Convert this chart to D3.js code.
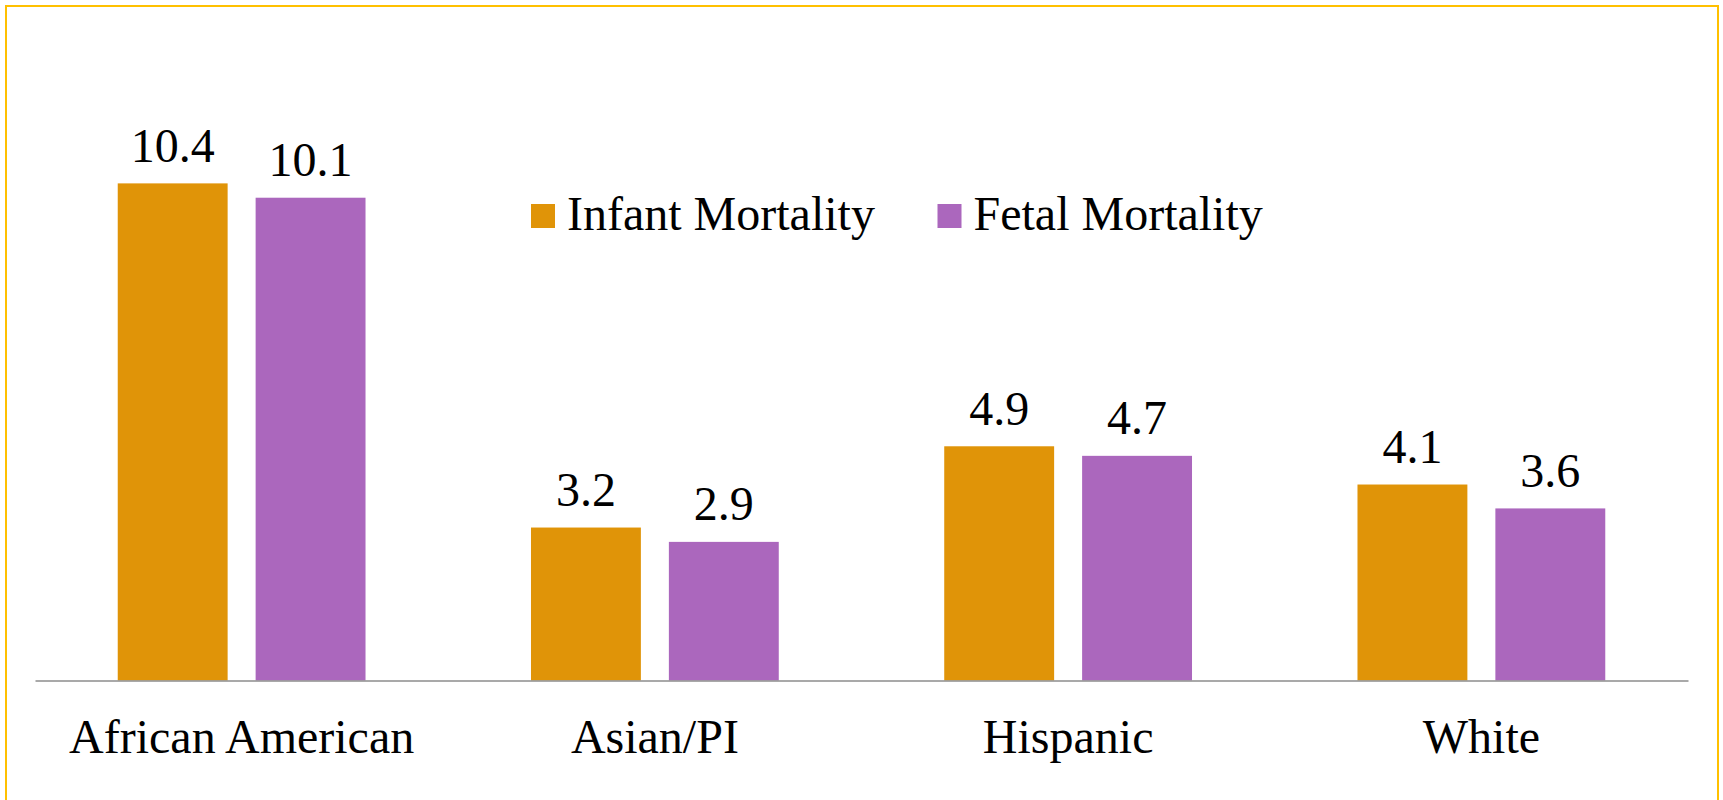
<!DOCTYPE html>
<html>
<head>
<meta charset="utf-8">
<script src="https://cdn.jsdelivr.net/npm/d3@7"></script>
<style>
  html, body { margin: 0; padding: 0; background: #fff; }
  svg { display: block; }
  text { font-family: "Liberation Serif", "Times New Roman", serif; fill: #000; }
</style>
</head>
<body>
<svg id="chart" width="1723" height="800"></svg>
<script>
const categories = ["African American", "Asian/PI", "Hispanic", "White"];
const seriesNames = ["Infant Mortality", "Fetal Mortality"];
const infantValues = [10.4, 3.2, 4.9, 4.1];
const fetalValues = [10.1, 2.9, 4.7, 3.6];
const colors = ["#E09408", "#AB67BD"];

const W = 1723, H = 800;
const svg = d3.select("#chart");

// frame
svg.append("rect")
  .attr("x", 6).attr("y", 6)
  .attr("width", 1712).attr("height", 800)
  .attr("fill", "none")
  .attr("stroke", "#FFC000")
  .attr("stroke-width", 2);

const baseY = 680.5;
const x0 = d3.scaleBand().domain(categories).range([35, 1688]);
const x1 = d3.scaleBand()
  .domain(seriesNames)
  .range([0, x0.bandwidth()])
  .paddingInner(0.203)
  .paddingOuter(0.6);
const y = d3.scaleLinear().domain([0, 12]).range([baseY, baseY - 12 * 47.8]);

const rows = categories.map((c, i) => ({
  cat: c,
  vals: [
    { s: seriesNames[0], v: infantValues[i], color: colors[0] },
    { s: seriesNames[1], v: fetalValues[i], color: colors[1] }
  ]
}));

const groups = svg.append("g")
  .selectAll("g")
  .data(rows)
  .join("g")
  .attr("transform", d => `translate(${x0(d.cat)},0)`);

groups.selectAll("rect")
  .data(d => d.vals)
  .join("rect")
  .attr("x", d => x1(d.s))
  .attr("y", d => y(d.v))
  .attr("width", x1.bandwidth())
  .attr("height", d => y(0) - y(d.v))
  .attr("fill", d => d.color);

groups.selectAll("text.val")
  .data(d => d.vals)
  .join("text")
  .attr("class", "val")
  .attr("x", d => x1(d.s) + x1.bandwidth() / 2)
  .attr("y", d => y(d.v) - 21.5)
  .attr("text-anchor", "middle")
  .attr("font-size", 48)
  .text(d => d.v.toFixed(1));

// baseline axis
const axis = svg.append("g")
  .attr("transform", `translate(0,${baseY})`)
  .call(d3.axisBottom(x0).tickSize(0).tickPadding(0));
axis.select(".domain")
  .attr("stroke", "#8C8C8C")
  .attr("stroke-width", 1.5);
axis.selectAll(".tick text")
  .attr("font-size", 48)
  .attr("font-family", "Liberation Serif, Times New Roman, serif")
  .attr("fill", "#000")
  .attr("dy", 0)
  .attr("y", 72.5);

// legend
const legendItems = [
  { name: seriesNames[0], color: colors[0], x: 531 },
  { name: seriesNames[1], color: colors[1], x: 937.5 }
];
const legend = svg.append("g")
  .selectAll("g")
  .data(legendItems)
  .join("g")
  .attr("transform", d => `translate(${d.x},204)`);
legend.append("rect")
  .attr("width", 24).attr("height", 24)
  .attr("fill", d => d.color);
legend.append("text")
  .attr("x", 36)
  .attr("y", 26)
  .attr("font-size", 48)
  .text(d => d.name);
</script>
</body>
</html>
